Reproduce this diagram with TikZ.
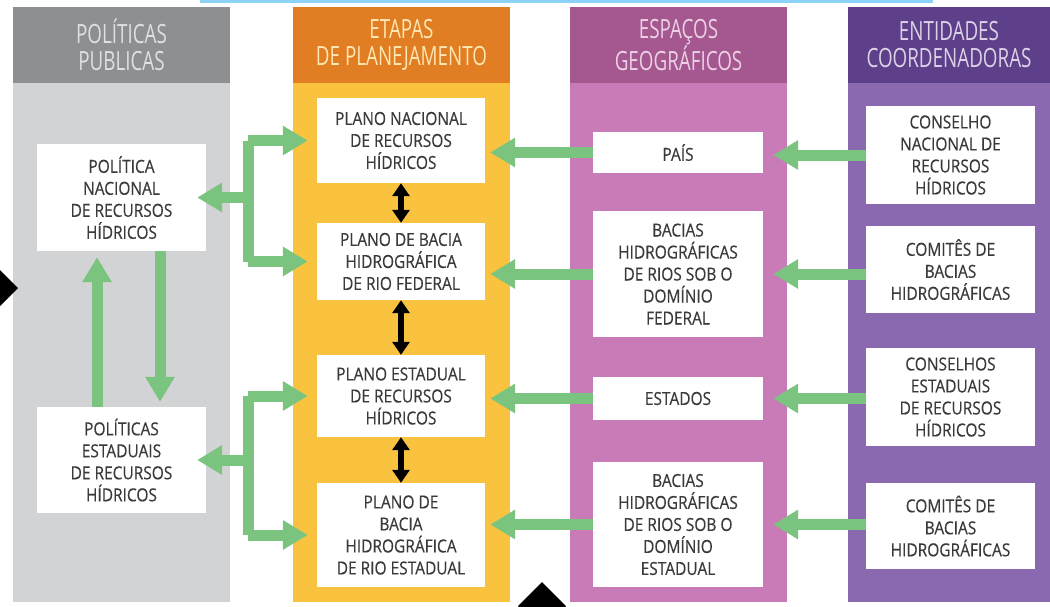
\documentclass[tikz,border=0pt]{standalone}
\usepackage{fontspec}
\setmainfont{Open Sans}[FakeStretch=0.86,FakeBold=0.35]
\newfontfamily\headfont{Open Sans}[FakeStretch=0.71]
\usetikzlibrary{arrows.meta}
\definecolor{grayhead}{HTML}{8E8F91}
\definecolor{graybody}{HTML}{D2D3D5}
\definecolor{orahead}{HTML}{E17D22}
\definecolor{orabody}{HTML}{F9C33F}
\definecolor{pinkhead}{HTML}{A5578F}
\definecolor{pinkbody}{HTML}{C97BB8}
\definecolor{purhead}{HTML}{5E3F8A}
\definecolor{purbody}{HTML}{8A69B0}
\definecolor{grn}{HTML}{7BC47F}
\definecolor{txt}{HTML}{3A3A3A}
\definecolor{skyline}{HTML}{8DD3F7}
\begin{document}
\begin{tikzpicture}[x=1pt,y=-1pt,
  box/.style={fill=white, inner sep=0pt, align=center, text=txt,
    font=\fontsize{18}{22}\selectfont, minimum width=169pt},
  head/.style={align=center, inner sep=0pt, font=\headfont\fontsize{26.5}{27}\selectfont},
  garrow/.style={draw=grn, line width=11pt, -{Triangle[width=28pt,length=25pt]}},
  gline/.style={draw=grn, line width=11pt, line cap=square},
  barrow/.style={draw=black, line width=6pt, {Triangle[width=17pt,length=13pt]}-{Triangle[width=17pt,length=13pt]}}]
\useasboundingbox (0,0) rectangle (1050,606);
% columns
\fill[graybody] (13,83) rectangle (230,602);
\fill[grayhead] (13,7) rectangle (230,83);
\fill[orabody] (293,83) rectangle (510,602);
\fill[orahead] (293,7) rectangle (510,83);
\fill[pinkbody] (570,83) rectangle (787,602);
\fill[pinkhead] (570,7) rectangle (787,83);
\fill[purbody] (848,83) rectangle (1050,602);
\fill[purhead] (848,7) rectangle (1050,83);
\fill[skyline] (200,0) rectangle (933,2.5);
% headers
\node[head, text=graybody!70!white] (hg) at (121.5,45) {POLÍTICAS\\PUBLICAS};
\node[head, text=orabody!40!white] (ho) at (401.5,45) {ETAPAS\\DE PLANEJAMENTO};
\node[head, text=pinkbody!35!white] (hp) at (678.5,45) {ESPAÇOS\\GEOGRÁFICOS};
\node[head, text=purbody!30!white] (hu) at (949,45) {ENTIDADES\\COORDENADORAS};
% gray boxes
\node[box, minimum height=107pt] (pnrh) at (121.5,197.5) {POLÍTICA\\NACIONAL\\DE RECURSOS\\HÍDRICOS};
\node[box, minimum height=106pt] (perh) at (121.5,460) {POLÍTICAS\\ESTADUAIS\\DE RECURSOS\\HÍDRICOS};
% yellow boxes
\node[box, minimum width=168pt, minimum height=85pt] (pnac) at (401,140.5) {PLANO NACIONAL\\DE RECURSOS\\HÍDRICOS};
\node[box, minimum width=168pt, minimum height=77pt] (pbf) at (401,261.5) {PLANO DE BACIA\\HIDROGRÁFICA\\DE RIO FEDERAL};
\node[box, minimum width=168pt, minimum height=82pt] (pe) at (401,396) {PLANO ESTADUAL\\DE RECURSOS\\HÍDRICOS};
\node[box, minimum width=168pt, minimum height=104pt] (pbe) at (401,535) {PLANO DE\\BACIA\\HIDROGRÁFICA\\DE RIO ESTADUAL};
% pink boxes
\node[box, minimum width=170pt, minimum height=41pt] (pais) at (678,152.5) {PAÍS};
\node[box, minimum width=170pt, minimum height=126pt] (bf) at (678,274) {BACIAS\\HIDROGRÁFICAS\\DE RIOS SOB O\\DOMÍNIO\\FEDERAL};
\node[box, minimum width=170pt, minimum height=43pt] (est) at (678,398.5) {ESTADOS};
\node[box, minimum width=170pt, minimum height=125pt] (be) at (678,524.5) {BACIAS\\HIDROGRÁFICAS\\DE RIOS SOB O\\DOMÍNIO\\ESTADUAL};
% purple boxes
\node[box, minimum height=98pt] (cnrh) at (950.5,155) {CONSELHO\\NACIONAL DE\\RECURSOS\\HÍDRICOS};
\node[box, minimum height=87pt] (cbh1) at (950.5,269.5) {COMITÊS DE\\BACIAS\\HIDROGRÁFICAS};
\node[box, minimum height=98pt] (cerh) at (950.5,397) {CONSELHOS\\ESTADUAIS\\DE RECURSOS\\HÍDRICOS};
\node[box, minimum height=86pt] (cbh2) at (950.5,526) {COMITÊS DE\\BACIAS\\HIDROGRÁFICAS};
% coordinates
\coordinate (j1) at (248,197.5);
\coordinate (j2) at (248,460);
\coordinate (ux) at (97,0);
\coordinate (dx) at (160,0);
% gray vertical arrows
\draw[garrow, shorten >=6pt] (perh.north -| ux) -- (pnrh.south -| ux);
\draw[garrow, shorten >=5pt] (pnrh.south -| dx) -- (perh.north -| dx);
% brackets
\draw[gline] (pnac.west -| j1) -- (pbf.west -| j1);
\draw[garrow, shorten >=9pt] (pnac.west -| j1) -- (pnac.west);
\draw[garrow, shorten >=9pt] (pbf.west -| j1) -- (pbf.west);
\draw[garrow, shorten >=-9pt] (j1) -- (pnrh.east);
\draw[gline] (pe.west -| j2) -- (pbe.west -| j2);
\draw[garrow, shorten >=9pt] (pe.west -| j2) -- (pe.west);
\draw[garrow, shorten >=9pt] (pbe.west -| j2) -- (pbe.west);
\draw[garrow, shorten >=-9pt] (j2) -- (perh.east);
% pink to yellow
\draw[garrow, shorten >=5pt] (pais.west) -- (pais.west -| pnac.east);
\draw[garrow, shorten >=5pt] (bf.west) -- (bf.west -| pbf.east);
\draw[garrow, shorten >=5pt] (est.west) -- (est.west -| pe.east);
\draw[garrow, shorten >=5pt] (be.west) -- (be.west -| pbe.east);
% purple to pink
\draw[garrow, shorten >=10pt] (cnrh.west) -- (cnrh.west -| pais.east);
\draw[garrow, shorten >=10pt] (cbh1.west |- bf.west) -- (bf.east);
\draw[garrow, shorten >=10pt] (cerh.west |- est.west) -- (est.east);
\draw[garrow, shorten >=10pt] (cbh2.west |- be.west) -- (be.east);
% black arrows
\draw[barrow] (pnac.south) -- (pbf.north);
\draw[barrow] (pbf.south) -- (pe.north);
\draw[barrow] (pe.south) -- (pbe.north);
% diamonds
\fill[black] (-6,264) -- (18,288) -- (-6,312) -- (-30,288) -- cycle;
\fill[black] (542,582) -- (566,606) -- (542,630) -- (518,606) -- cycle;
\end{tikzpicture}
\end{document}
